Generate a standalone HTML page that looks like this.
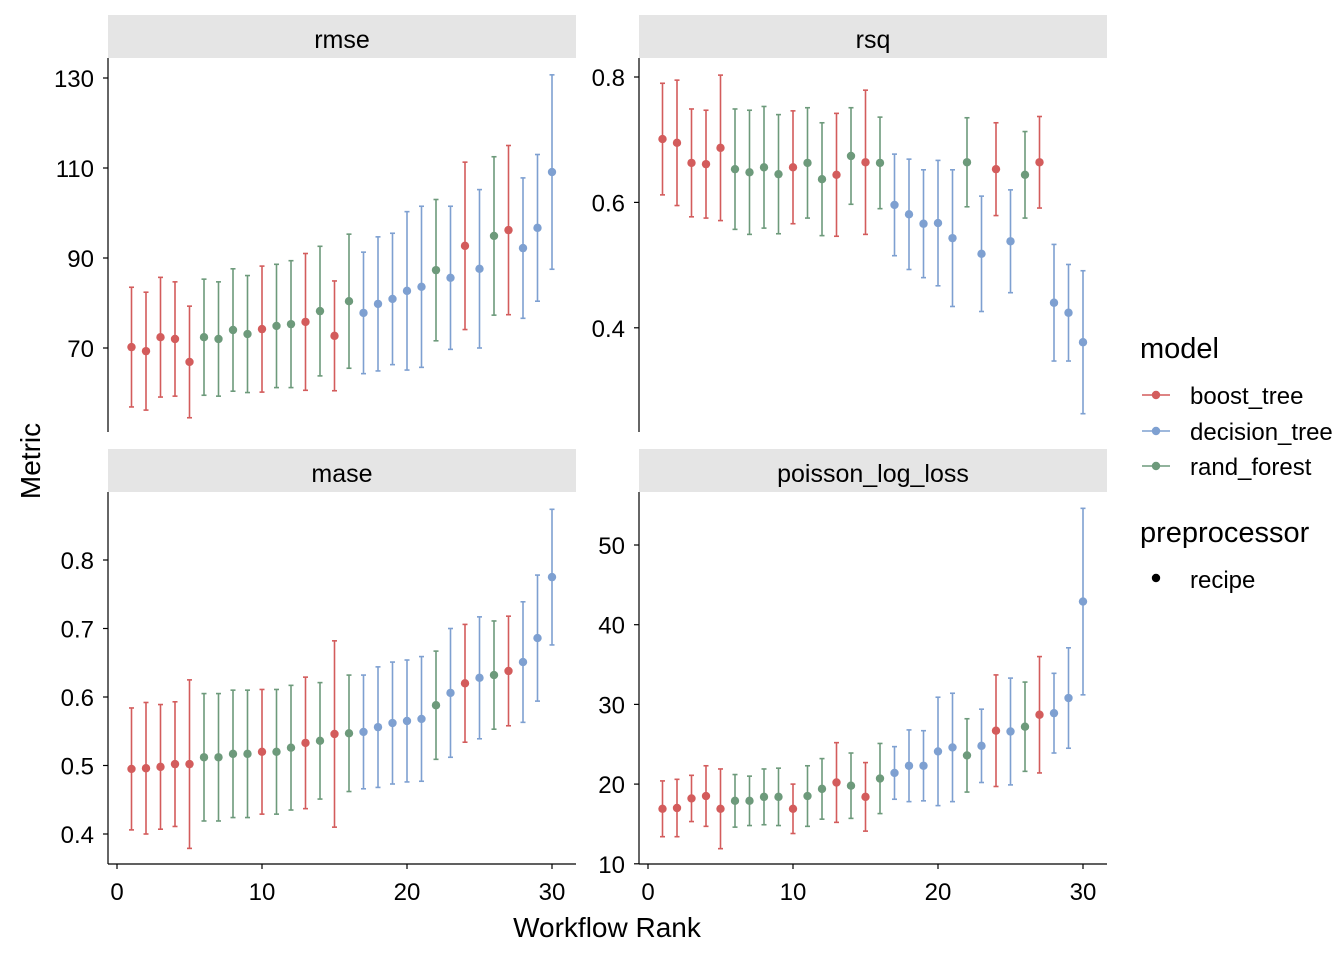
<!DOCTYPE html>
<html><head><meta charset="utf-8"><style>
body{margin:0;background:#fff}
svg text{font-family:"Liberation Sans Narrow","Liberation Sans",sans-serif;fill:#000}
</style></head><body>
<svg id="chart" width="1344" height="960" xmlns="http://www.w3.org/2000/svg"></svg>
<script>
const ranks=[1,2,3,4,5,6,7,8,9,10,11,12,13,14,15,16,17,18,19,20,21,22,23,24,25,26,27,28,29,30];
const models=['b','b','b','b','b','r','r','r','r','b','r','r','b','r','b','r','d','d','d','d','d','r','d','b','d','r','b','d','d','d'];
const rmseMean=[70.2,69.3,72.4,72.0,66.9,72.4,72.0,74.0,73.1,74.2,74.9,75.3,75.8,78.2,72.7,80.4,77.8,79.8,80.9,82.7,83.6,87.3,85.6,92.7,87.6,94.9,96.2,92.2,96.7,109.1];
const rmseErr=[13.3,13.1,13.3,12.7,12.4,12.9,12.7,13.6,13.0,14.0,13.7,14.1,15.2,14.4,12.2,14.9,13.5,14.9,14.6,17.6,17.9,15.7,15.9,18.6,17.6,17.6,18.8,15.6,16.3,21.6];
const rsqMean=[0.701,0.695,0.663,0.661,0.687,0.653,0.648,0.656,0.645,0.656,0.663,0.637,0.644,0.674,0.664,0.663,0.596,0.581,0.566,0.567,0.543,0.664,0.518,0.653,0.538,0.644,0.664,0.440,0.424,0.377];
const rsqErr=[0.089,0.10,0.086,0.086,0.116,0.096,0.099,0.097,0.095,0.090,0.088,0.090,0.098,0.077,0.115,0.073,0.081,0.088,0.086,0.100,0.109,0.071,0.092,0.074,0.082,0.069,0.073,0.093,0.077,0.114];
const maseMean=[0.495,0.496,0.498,0.502,0.502,0.512,0.512,0.517,0.517,0.520,0.520,0.526,0.533,0.536,0.546,0.547,0.549,0.556,0.562,0.565,0.568,0.588,0.606,0.620,0.628,0.632,0.638,0.651,0.686,0.775];
const maseErr=[0.089,0.096,0.091,0.091,0.123,0.093,0.093,0.093,0.093,0.091,0.091,0.091,0.096,0.085,0.136,0.085,0.083,0.088,0.089,0.089,0.091,0.079,0.094,0.086,0.089,0.079,0.080,0.088,0.092,0.099];
const plMean=[16.9,17.0,18.2,18.5,16.9,17.9,17.9,18.4,18.4,16.9,18.5,19.4,20.2,19.8,18.4,20.7,21.4,22.3,22.3,24.1,24.6,23.6,24.8,26.7,26.6,27.2,28.7,28.9,30.8,42.9];
const plErr=[3.5,3.6,2.9,3.8,5.0,3.3,3.1,3.5,3.6,3.1,3.8,3.8,5.0,4.1,4.3,4.4,3.3,4.5,4.4,6.8,6.8,4.6,4.6,7.0,6.7,5.6,7.3,5.0,6.3,11.7];
const xTicks=[0,10,20,30];
const colors={b:'#d35c5c',d:'#7ea0d1',r:'#6d9a7b'};
const NS='http://www.w3.org/2000/svg';
const svg=document.getElementById('chart');
function el(t,a,p){const e=document.createElementNS(NS,t);for(const k in a)e.setAttribute(k,a[k]);(p||svg).appendChild(e);return e;}
function txt(s,a,p){const e=el('text',a,p);e.textContent=s;return e;}
const panels=[
 {name:'rmse',x0:108,x1:576,top:15,y0:58,y1:432,mean:rmseMean,err:rmseErr,ticks:[70,90,110,130],lbl:[70,90,110,130],v0:130,p0:78,scale:4.5,xaxis:false},
 {name:'rsq',x0:639,x1:1107,top:15,y0:58,y1:432,mean:rsqMean,err:rsqErr,ticks:[0.4,0.6,0.8],lbl:['0.4','0.6','0.8'],v0:0.8,p0:77,scale:627,xaxis:false},
 {name:'mase',x0:108,x1:576,top:449,y0:492,y1:864,mean:maseMean,err:maseErr,ticks:[0.4,0.5,0.6,0.7,0.8],lbl:['0.4','0.5','0.6','0.7','0.8'],v0:0.8,p0:560,scale:685,xaxis:true},
 {name:'poisson_log_loss',x0:639,x1:1107,top:449,y0:492,y1:864,mean:plMean,err:plErr,ticks:[10,20,30,40,50],lbl:[10,20,30,40,50],v0:50,p0:545,scale:7.97,xaxis:true}
];
panels.forEach(P=>{
 const g=el('g',{});
 
 
 const xs=v=>P.x0+9+v*14.5;
 const ys=v=>P.p0+(P.v0-v)*P.scale;
 const st=el('rect',{x:P.x0,y:P.top,width:P.x1-P.x0,height:P.y0-P.top,fill:'#e5e5e5'},g);
 
 
 const stt=txt(P.name,{x:(P.x0+P.x1)/2,y:P.top+33,'text-anchor':'middle','font-size':25},g);
 
 
 el('line',{x1:P.x0,x2:P.x0,y1:P.y0,y2:P.y1,stroke:'#000','stroke-width':1.2},g);
 P.ticks.forEach((t,i)=>{
  const y=ys(t);
  el('line',{x1:P.x0-5,x2:P.x0,y1:y,y2:y,stroke:'#000','stroke-width':1.2},g);
  const tl=txt(String(P.lbl[i]),{x:P.x0-14,y:y+9,'text-anchor':'end','font-size':24},g);
  
  
 });
 if(P.xaxis){
  el('line',{x1:P.x0,x2:P.x1,y1:P.y1,y2:P.y1,stroke:'#000','stroke-width':1.2},g);
  xTicks.forEach(t=>{
   const x=xs(t);
   el('line',{x1:x,x2:x,y1:P.y1,y2:P.y1+5,stroke:'#000','stroke-width':1.2},g);
   const tl=txt(String(t),{x:x,y:P.y1+36,'text-anchor':'middle','font-size':24},g);
   
   
  });
 }
 ranks.forEach((r,i)=>{
  const c=colors[models[i]],x=xs(r),m=P.mean[i],e=P.err[i];
  const eb=el('g',{},g);
  
  
  el('line',{x1:x,x2:x,y1:ys(m+e),y2:ys(m-e),stroke:c,'stroke-width':1.6},eb);
  el('line',{x1:x-2.5,x2:x+2.5,y1:ys(m+e),y2:ys(m+e),stroke:c,'stroke-width':1.6},eb);
  el('line',{x1:x-2.5,x2:x+2.5,y1:ys(m-e),y2:ys(m-e),stroke:c,'stroke-width':1.6},eb);
  const pt=el('circle',{cx:x,cy:ys(m),r:4.2,fill:c},eb);
  
  
 });
});
const xt=txt('Workflow Rank',{x:607,y:937,'text-anchor':'middle','font-size':28});


const yt=txt('Metric',{x:0,y:0,'text-anchor':'middle','font-size':28,transform:'translate(40,461) rotate(-90)'});


const lg=el('g',{});


txt('model',{x:1140,y:358,'font-size':29},lg);
[['boost_tree','b',395],['decision_tree','d',431],['rand_forest','r',466]].forEach(([n,k,y])=>{
 const e=el('g',{},lg);
 
 
 el('line',{x1:1142,x2:1170,y1:y,y2:y,stroke:colors[k],'stroke-width':1.6},e);
 el('circle',{cx:1156,cy:y,r:4.2,fill:colors[k]},e);
 txt(n,{x:1190,y:y+9,'font-size':24},e);
});
txt('preprocessor',{x:1140,y:542,'font-size':29},lg);
const pe=el('g',{},lg);


el('circle',{cx:1156,cy:578,r:4.2,fill:'#000'},pe);
txt('recipe',{x:1190,y:588,'font-size':24},pe);
</script>
</body></html>
